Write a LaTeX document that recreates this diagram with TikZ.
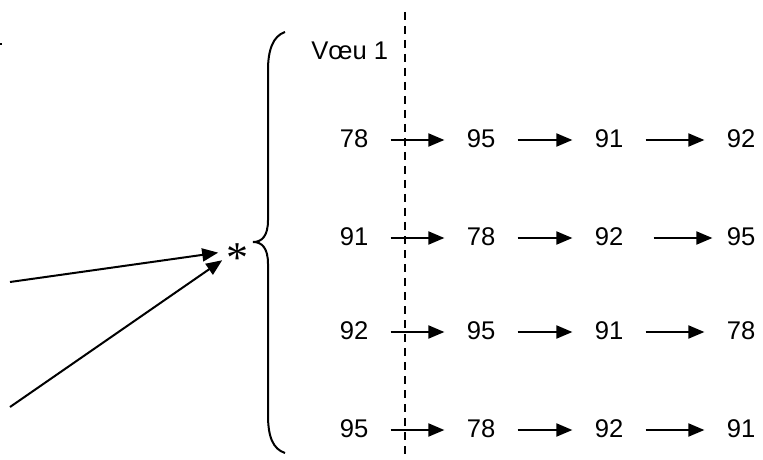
\documentclass[tikz,border=0pt]{standalone}
\usepackage{fontspec}
\setmainfont{Liberation Sans}
\newfontfamily\starfont{Liberation Serif}
\usetikzlibrary{arrows.meta,positioning}

\tikzset{
    num/.style={font=\fontsize{12.8}{15}\selectfont, inner xsep=11pt, inner ysep=0pt,
        text height=0.716em, text depth=0pt},
    nxt/.style={line width=1pt, -{Triangle[length=8pt,width=6.5pt]}},
}

\begin{document}
\begin{tikzpicture}[x=0.5pt,y=-0.5pt]
    \useasboundingbox (0,0) rectangle (763,459);

    % small stub at the left edge
    \draw[line width=0.8pt] (0,44) -- (2,44);

    % dashed separator
    \coordinate (dtop) at (405,12);
    \coordinate (dbot) at (405,459);
    \draw[line width=0.6pt, dash pattern=on 4pt off 3pt] (dtop) -- (dbot);

    \node[num, inner xsep=0pt, anchor=west] (voeu) at (311,52) {V\oe u 1};

    % brace
    \draw[line width=1pt] (285,32) .. controls (273,36) and (268,50) .. (268,70)
        -- (268,220) .. controls (268,236) and (262,242) .. (253,242)
        .. controls (262,242) and (268,248) .. (268,264)
        -- (268,415) .. controls (268,437) and (273,449) .. (285,453);

    % asterisk and incoming arrows
    \node[inner sep=0pt, anchor=base, font=\starfont\fontsize{22}{26}\selectfont] (star) at (237,272) {*};
    \coordinate (aim) at (237,250);
    \coordinate (in1) at (10,282);
    \coordinate (in2) at (10,407);
    \draw[nxt, shorten >=9.5pt] (in1) -- (aim);
    \draw[nxt, shorten >=9pt] (in2) -- (aim);

    % row 1
    \node[num] (a1) at (354,140) {78};
    \node[num] (a2) at (481,140) {95};
    \node[num] (a3) at (609,140) {91};
    \node[num] (a4) at (741,140) {92};
    % row 2
    \node[num] (b1) at (354,238) {91};
    \node[num] (b2) at (481,238) {78};
    \node[num] (b3) at (609,238) {92};
    \node[num] (b4) at (741,238) {95};
    % row 3
    \node[num] (c1) at (354,332) {92};
    \node[num] (c2) at (481,332) {95};
    \node[num] (c3) at (609,332) {91};
    \node[num] (c4) at (741,332) {78};
    % row 4
    \node[num] (d1) at (354,430) {95};
    \node[num] (d2) at (481,430) {78};
    \node[num] (d3) at (609,430) {92};
    \node[num] (d4) at (741,430) {91};

    \foreach \r in {a,c,d}{
        \draw[nxt] (\r1) -- (\r2);
        \draw[nxt] (\r2) -- (\r3);
        \draw[nxt] (\r3) -- (\r4);
    }
    \draw[nxt] (b1) -- (b2);
    \draw[nxt] (b2) -- (b3);
    \draw[nxt, shorten <=4pt, shorten >=-4pt] (b3) -- (b4);
\end{tikzpicture}
\end{document}
